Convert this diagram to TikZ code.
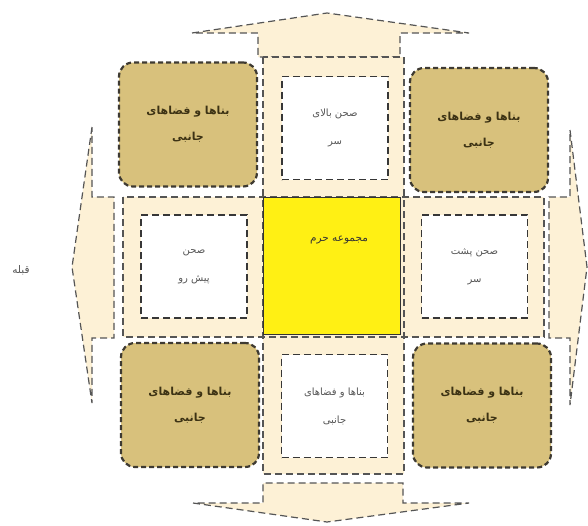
\documentclass[tikz,border=0pt]{standalone}
\usepackage{fontspec}
\newfontfamily\farsifont[Script=Arabic]{DejaVu Sans}
\TeXXeTstate=1
\newcommand{\fa}[1]{\beginR #1\endR}
\definecolor{cream}{RGB}{253,241,214}
\definecolor{tan}{RGB}{216,193,124}
\definecolor{haram}{RGB}{255,240,20}
\definecolor{bandgray}{RGB}{85,85,85}
\definecolor{boxgray}{RGB}{62,58,50}
\definecolor{courtgray}{RGB}{55,55,55}
\definecolor{txtbrown}{RGB}{60,50,20}
\definecolor{txtgray}{RGB}{85,85,85}
\begin{document}
\begin{tikzpicture}[x=1pt,y=-1pt,
    bandline/.style={draw=bandgray,line width=1.2pt,dash pattern=on 7pt off 4pt},
    sidebox/.style={draw=boxgray,fill=tan,rounded corners=14pt,line width=2.2pt,
        dash pattern=on 5pt off 3pt,minimum width=138pt,minimum height=124pt,
        align=center,text=txtbrown,font=\farsifont\bfseries\fontsize{11}{26}\selectfont},
    court/.style={draw=courtgray,fill=white,line width=1.4pt,dash pattern=on 7pt off 4pt,
        minimum width=106pt,minimum height=103pt,
        align=center,text=txtgray,font=\farsifont\fontsize{10}{28}\selectfont}]
    \useasboundingbox (0,0) rectangle (588,525);
    % arrows
    \filldraw[fill=cream,bandline] (192,33) -- (327,13) -- (469,33) -- (400,33) -- (400,57) -- (258,57) -- (258,33) -- cycle;
    \filldraw[fill=cream,bandline] (193,503) -- (327,522) -- (469,503) -- (403,503) -- (403,483) -- (263,483) -- (263,503) -- cycle;
    \filldraw[fill=cream,bandline] (92,127) -- (72,267) -- (92,403) -- (92,338) -- (114,338) -- (114,197) -- (92,197) -- cycle;
    \filldraw[fill=cream,bandline] (570,130) -- (587,267) -- (570,405) -- (570,338) -- (549,338) -- (549,197) -- (570,197) -- cycle;
    % the two bands
    \fill[cream] (263,57) rectangle (404,474);
    \fill[cream] (123,197) rectangle (544,337);
    \draw[bandline] (263,57) rectangle (404,474);
    \draw[bandline] (123,197) rectangle (544,337);
    % centre
    \node[draw=black!80,fill=haram,line width=0.9pt,minimum width=137pt,minimum height=137pt] (haram) at (331.5,265.5) {};
    \node[font=\farsifont\fontsize{10.5}{12}\selectfont,text=black!80] (haramtext) at (339,240) {\fa{مجموعه حرم}};
    % courtyards
    \node[court] (top) at (335,128) {\fa{صحن بالای}\\\fa{سر}};
    \node[court] (bottom) at (334.5,406) {\fa{بناها و فضاهای}\\\fa{جانبی}};
    \node[court] (front) at (194,266.5) {\fa{صحن}\\\fa{پیش رو}};
    \node[court] (back) at (474.5,266.5) {\fa{صحن پشت}\\\fa{سر}};
    % side buildings
    \node[sidebox] (tl) at (188,124.5) {\fa{بناها و فضاهای}\\\fa{جانبی}};
    \node[sidebox] (tr) at (479,130) {\fa{بناها و فضاهای}\\\fa{جانبی}};
    \node[sidebox] (bl) at (190,405) {\fa{بناها و فضاهای}\\\fa{جانبی}};
    \node[sidebox] (br) at (482,405.5) {\fa{بناها و فضاهای}\\\fa{جانبی}};
    \node[font=\farsifont\fontsize{10.5}{12}\selectfont,text=txtgray] (qibla) at (21,270) {\fa{قبله}};
\end{tikzpicture}
\end{document}
